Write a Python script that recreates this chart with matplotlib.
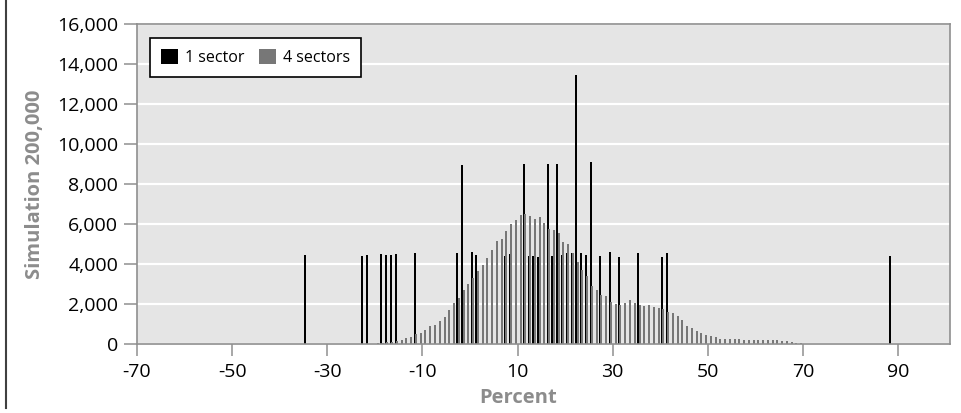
import matplotlib
matplotlib.use("Agg")
import matplotlib.pyplot as plt
from matplotlib.lines import Line2D
from matplotlib.ticker import StrMethodFormatter

# Histogram bins (percent), each bin is [k, k+1)
four_start = -20
four_counts = [66, 83, 100, 130, 170, 240, 340, 365, 500, 590,
               720, 900, 970, 1170, 1385, 1700, 2050, 2330, 2700, 3035,
               3330, 3680, 3950, 4310, 4710, 5170, 5270, 5670, 6020, 6220,
               6480, 6520, 6430, 6280, 6385, 6070, 5790, 5720, 5555, 5120,
               5010, 4560, 4100, 3730, 3400, 2935, 2700, 2470, 2400, 2120,
               2040, 1970, 2070, 2200, 2070, 1990, 1910, 1990, 1870, 1820,
               1790, 1610, 1560, 1430, 1240, 945, 845, 680, 565, 480,
               415, 350, 265, 250, 280, 265, 250, 235, 240, 240,
               235, 235, 230, 210, 220, 195, 165, 120, 70, 50,
               33, 17, 10]
four_bins = list(range(four_start, four_start + len(four_counts)))

one_bins = [-35, -23, -22, -19, -18, -17, -16, -12, -3, -2,
            0, 1, 7, 8, 11, 12, 13, 14, 16, 17,
            18, 19, 20, 21, 22, 23, 24, 25, 27, 29,
            31, 35, 40, 41, 88]
one_counts = [4460, 4400, 4480, 4530, 4460, 4460, 4510, 4590, 4570, 8950,
              4610, 4480, 4440, 4530, 9030, 4400, 4440, 4360, 9000, 4400,
              9000, 4480, 4560, 4560, 13450, 4580, 4480, 9100, 4430, 4610,
              4380, 4580, 4380, 4560, 4400]

x_ticks = [-70, -50, -30, -10, 10, 30, 50, 70, 90]
y_ticks = [0, 2000, 4000, 6000, 8000, 10000, 12000, 14000, 16000]

plt.rcParams["font.family"] = ["Open Sans", "DejaVu Sans"]
plt.rcParams["axes.unicode_minus"] = False

fig = plt.figure(figsize=(9.61, 4.13), dpi=100)
ax = fig.add_axes([0.1426, 0.1659, 0.8463, 0.776])
ax.set_facecolor("#e5e5e5")

# clustered bars: 1 sector on the left, 4 sectors on the right of each bin
bar_w = 0.42
ax.bar([b + 0.35 for b in one_bins], one_counts, width=bar_w,
       color="black", label="1 sector", zorder=3)
ax.bar([b + 0.65 for b in four_bins], four_counts, width=bar_w,
       color="#777777", label="4 sectors", zorder=3)

ax.set_xlim(-70, 101)
ax.set_ylim(0, 16000)
ax.set_xticks(x_ticks)
ax.set_yticks(y_ticks)
ax.yaxis.set_major_formatter(StrMethodFormatter("{x:,.0f}"))

ax.grid(axis="y", color="white", linewidth=1.6, zorder=1)
ax.set_axisbelow(True)

for side in ["left", "bottom", "top", "right"]:
    ax.spines[side].set_color("#8f8f8f")
    ax.spines[side].set_linewidth(1.2)
    ax.spines[side].set_zorder(4)

ax.tick_params(axis="y", length=9.5, width=1.1, color="#8f8f8f",
               labelsize=14, pad=4)
ax.tick_params(axis="x", length=8.5, width=1.1, color="#8f8f8f",
               labelsize=14, pad=5)

ax.set_ylabel("Simulation 200,000", fontsize=14.5, fontweight="bold",
              color="#8c8c8c")
ax.yaxis.set_label_coords(-0.113, 0.5)
ax.set_xlabel("Percent", fontsize=14.5, fontweight="bold", color="#8c8c8c")
ax.xaxis.set_label_coords(0.469, -0.135)

leg = ax.legend(loc="upper left", bbox_to_anchor=(0.016, 0.956), ncol=2,
                fontsize=11.5, frameon=True, fancybox=False, framealpha=1,
                edgecolor="black", borderaxespad=0, borderpad=0.7,
                handlelength=1.05, handleheight=1.05, handletextpad=0.45,
                columnspacing=0.9)
leg.get_frame().set_linewidth(1.2)

# left border of the chart frame
fig.add_artist(Line2D([0.0065, 0.0065], [0.012, 1.0], transform=fig.transFigure,
                      color="#404040", linewidth=1.5))

plt.savefig("out.png", dpi=100)
